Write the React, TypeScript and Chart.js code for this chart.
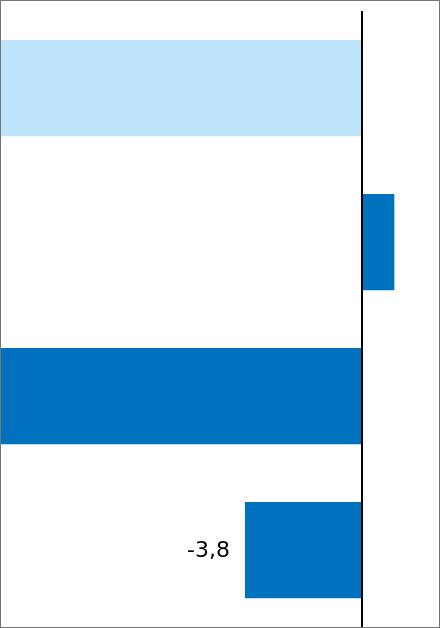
import { useEffect, useRef } from "react"
import { Chart, registerables } from "chart.js"

Chart.register(...registerables)

// data
const categories = ["A", "B", "C", "D"]
const values = [-14, 1.05, -14, -3.8]
const barColors = ["#BEE5FC", "#0071BC", "#0071BC", "#0071BC"]
const shownLabels = ["", "", "", "-3,8"]

const labelPlugin = {
  id: "barLabels",
  afterDatasetsDraw(chart: Chart) {
    const ctx = chart.ctx
    const meta = chart.getDatasetMeta(0)
    ctx.save()
    ctx.font = "22px 'DejaVu Sans', sans-serif"
    ctx.fillStyle = "#000"
    ctx.textAlign = "right"
    ctx.textBaseline = "middle"
    meta.data.forEach((el: any, i: number) => {
      const txt = shownLabels[i]
      if (!txt) return
      ctx.fillText(txt, el.x - 15, el.y + 1)
    })
    ctx.restore()
  },
}

export default function App() {
  const chartRef = useRef<HTMLCanvasElement>(null)
  const chartInstance = useRef<Chart | null>(null)

  useEffect(() => {
    document.body.style.margin = "0"
    if (!chartRef.current) return
    if (chartInstance.current) chartInstance.current.destroy()
    const ctx = chartRef.current.getContext("2d")
    if (!ctx) return

    chartInstance.current = new Chart(ctx, {
      type: "bar",
      data: {
        labels: categories,
        datasets: [
          {
            data: values,
            backgroundColor: barColors,
            borderWidth: 0,
            categoryPercentage: 0.625,
            barPercentage: 1,
          },
        ],
      },
      options: {
        indexAxis: "y",
        animation: false,
        responsive: true,
        maintainAspectRatio: false,
        layout: { padding: { top: 10, bottom: 0, left: 0, right: 0 } },
        scales: {
          x: {
            min: -11.72,
            max: 2.5,
            display: true,
            ticks: { display: false, stepSize: 1 },
            border: { display: false },
            grid: {
              drawTicks: false,
              lineWidth: 2,
              color: (c: any) => (c.tick && c.tick.value === 0 ? "#000" : "rgba(0,0,0,0)"),
            },
          },
          y: {
            display: false,
          },
        },
        plugins: {
          legend: { display: false },
          tooltip: { enabled: false },
        },
      },
      plugins: [labelPlugin],
    })

    return () => {
      if (chartInstance.current) chartInstance.current.destroy()
    }
  }, [])

  return (
    <div
      style={{
        position: "absolute",
        left: 0,
        top: 0,
        width: 440,
        height: 628,
        border: "1px solid #767676",
        boxSizing: "border-box",
        background: "#fff",
      }}
    >
      <canvas ref={chartRef} />
    </div>
  )
}
